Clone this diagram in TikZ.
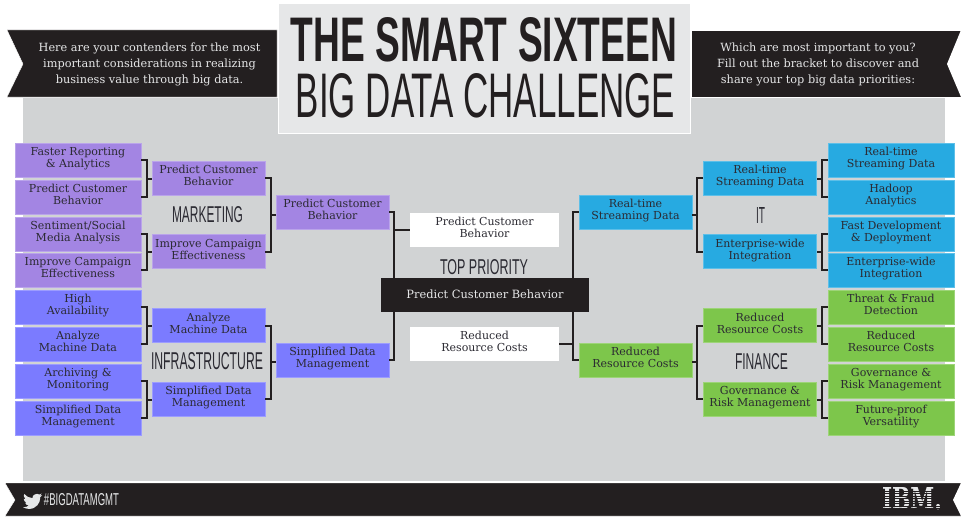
\documentclass[tikz,border=0pt]{standalone}
\usepackage{fontspec}
\usepackage{graphicx}
\setmainfont{DejaVu Serif}
\newfontfamily\headfont{Liberation Sans}
\definecolor{ink}{HTML}{231F20}
\definecolor{txt}{HTML}{2B2A32}
\definecolor{panel}{HTML}{D1D3D4}
\definecolor{titlebg}{HTML}{E6E7E8}
\definecolor{pur}{HTML}{A385E3}
\definecolor{ind}{HTML}{7B7BFF}
\definecolor{blu}{HTML}{27AAE1}
\definecolor{grn}{HTML}{7DC64B}
\newcommand{\brk}[6]{%
  \draw[conn] (#1.#4) -- ++(#6,0) coordinate (p) -- (p |- #2.#4) -- (#2.#4);
  \path (#1.#4) -- (#2.#4) coordinate[midway] (m);
  \draw[conn] (p |- m) -- (m -| #3.#5);
}
\newcommand{\fitted}[3]{\resizebox{#1pt}{#2pt}{#3}}
\tikzset{
  x=1pt,y=-1pt,
  boxbase/.style={inner sep=0pt,align=center,text=txt,
    font=\fontsize{11}{12}\selectfont,
    execute at begin node={\rule{0pt}{12pt}},
    execute at end node={\rule[-5pt]{0pt}{5pt}}},
  leaf/.style={boxbase,fill=#1,draw=#1!75!white,line width=.6pt,minimum width=126,minimum height=34},
  mid/.style={boxbase,fill=#1,draw=#1!75!white,line width=.6pt,minimum width=113,minimum height=34},
  win/.style={boxbase,fill=white,minimum width=149,minimum height=34},
  conn/.style={draw=ink,line width=2pt},
  ribbon/.style={fill=ink,draw=white,line width=.4pt},
  ribtext/.style={inner sep=0pt,align=center,text=titlebg,font=\fontsize{11.3}{16}\selectfont},
  heading/.style={inner sep=0pt,text=txt,font=\headfont},
  big/.style={inner sep=0pt,text=ink,font=\headfont},
}
\begin{document}
\begin{tikzpicture}
\useasboundingbox (0,0) rectangle (961,519);
\fill[white] (0,0) rectangle (961,519);
% panel, title, ribbons
\fill[panel] (23,98) rectangle (945,481);
\path[fill=titlebg,draw=white,line width=1pt] (278,4) rectangle (690,133);
\path[ribbon] (7,30) -- (277,30) -- (277,97) -- (7,97) -- (23,64) -- cycle;
\path[ribbon] (691,30) -- (961,30) -- (961,97) -- (691,97) -- cycle;
\fill[white] (961,30) -- (947,64) -- (961,97) -- cycle;
\path[ribbon] (5,483) -- (961,483) -- (961,516) -- (5,516) -- (15,500) -- cycle;
\fill[white] (961,483) -- (953,500) -- (961,516) -- cycle;
% headline
\node[big] (title1) at (484,40) {\fitted{386}{44}{\bfseries THE SMART SIXTEEN}};
\node[big] (title2) at (485.5,95.5) {\fitted{379}{44}{BIG DATA CHALLENGE}};
\node[ribtext] (intro) at (149.5,64) {Here are your contenders for the most\\important considerations in realizing\\business value through big data.};
\node[ribtext] (ask) at (818,64) {Which are most important to you?\\Fill out the bracket to discover and\\share your top big data priorities:};
% marketing
\node[leaf=pur] (a1) at (78,160) {Faster Reporting\\\& Analytics};
\node[leaf=pur] (a2) at (78,197) {Predict Customer\\Behavior};
\node[leaf=pur] (a3) at (78,234) {Sentiment/Social\\Media Analysis};
\node[leaf=pur] (a4) at (78,270) {Improve Campaign\\Effectiveness};
\node[mid=pur] (a5) at (208.5,178) {Predict Customer\\Behavior};
\node[mid=pur] (a6) at (208.5,251.5) {Improve Campaign\\Effectiveness};
\node[mid=pur] (a7) at (332.5,212) {Predict Customer\\Behavior};
% infrastructure
\node[leaf=ind] (b1) at (78,307) {High\\Availability};
\node[leaf=ind] (b2) at (78,344) {Analyze\\Machine Data};
\node[leaf=ind] (b3) at (78,381) {Archiving \&\\Monitoring};
\node[leaf=ind] (b4) at (78,418) {Simplified Data\\Management};
\node[mid=ind] (b5) at (208.5,325.5) {Analyze\\Machine Data};
\node[mid=ind] (b6) at (208.5,399) {Simplified Data\\Management};
\node[mid=ind] (b7) at (332.5,360) {Simplified Data\\Management};
% IT
\node[leaf=blu] (c1) at (891,160) {Real-time\\Streaming Data};
\node[leaf=blu] (c2) at (891,197) {Hadoop\\Analytics};
\node[leaf=blu] (c3) at (891,234) {Fast Development\\\& Deployment};
\node[leaf=blu] (c4) at (891,270) {Enterprise-wide\\Integration};
\node[mid=blu] (c5) at (760,178) {Real-time\\Streaming Data};
\node[mid=blu] (c6) at (760,251.5) {Enterprise-wide\\Integration};
\node[mid=blu] (c7) at (635.5,212) {Real-time\\Streaming Data};
% finance
\node[leaf=grn] (d1) at (891,307) {Threat \& Fraud\\Detection};
\node[leaf=grn] (d2) at (891,344) {Reduced\\Resource Costs};
\node[leaf=grn] (d3) at (891,381) {Governance \&\\Risk Management};
\node[leaf=grn] (d4) at (891,418) {Future-proof\\Versatility};
\node[mid=grn] (d5) at (760,325.5) {Reduced\\Resource Costs};
\node[mid=grn] (d6) at (760,399) {Governance \&\\Risk Management};
\node[mid=grn] (d7) at (635.5,360) {Reduced\\Resource Costs};
% centre
\node[win] (w1) at (484.5,230) {Predict Customer\\Behavior};
\node[win] (w2) at (484.5,343.5) {Reduced\\Resource Costs};
\node[boxbase,fill=ink,text=titlebg,minimum width=208,minimum height=34,font=\fontsize{11.4}{12}\selectfont] (champ) at (485,295) {Predict Customer Behavior};
% section labels
\node[heading] (lm) at (207.5,215) {\fitted{71}{16}{MARKETING}};
\node[heading] (li) at (207,361.5) {\fitted{112}{17}{INFRASTRUCTURE}};
\node[heading] (lt) at (760.5,215) {\fitted{9}{16}{IT}};
\node[heading] (lf) at (761.5,362) {\fitted{53}{16}{FINANCE}};
\node[heading] (lp) at (484,267.5) {\fitted{88}{15}{TOP PRIORITY}};
% brackets
\brk{a1}{a2}{a5}{east}{west}{5.5}
\brk{a3}{a4}{a6}{east}{west}{5.5}
\brk{b1}{b2}{b5}{east}{west}{5.5}
\brk{b3}{b4}{b6}{east}{west}{5.5}
\brk{a5}{a6}{a7}{east}{west}{5.5}
\brk{b5}{b6}{b7}{east}{west}{5.5}
\brk{c1}{c2}{c5}{west}{east}{-5.5}
\brk{c3}{c4}{c6}{west}{east}{-5.5}
\brk{d1}{d2}{d5}{west}{east}{-5.5}
\brk{d3}{d4}{d6}{west}{east}{-5.5}
\brk{c5}{c6}{c7}{west}{east}{-6}
\brk{d5}{d6}{d7}{west}{east}{-6}
\draw[conn] (a7.east) -- ++(5,0) coordinate (p) -- (p |- champ.north);
\draw[conn] (p |- w1.west) -- (w1.west);
\draw[conn] (b7.east) -- ++(5,0) coordinate (p) -- (p |- champ.south);
\draw[conn] (c7.west) -- ++(-6,0) coordinate (p) -- (p |- champ.north);
\draw[conn] (d7.west) -- ++(-6,0) coordinate (p) -- (p |- champ.south);
\draw[conn] (w2.east) -- (p |- w2.east);
% footer
\begin{scope}[shift={(23,491.5)},scale=.8]
\fill[titlebg] (23.95,4.57) -- (21.13,5.35) .. controls (22.1,4.75) and (22.9,3.8) .. (23.29,2.62)
  .. controls (22.34,3.18) and (21.29,3.58) .. (20.16,3.81)
  .. controls (18.2,1.6) and (11,3.9) .. (11.78,8.29)
  .. controls (7.69,8.095) and (4.067,6.13) .. (1.64,3.162)
  .. controls (1.22,3.89) and (.974,4.74) .. (.974,5.637)
  .. controls (.974,7.35) and (1.84,8.85) .. (3.16,9.73)
  -- (.93,9.12) -- (.93,9.18)
  .. controls (.93,11.56) and (2.62,13.55) .. (4.88,14)
  -- (2.66,14.09)
  .. controls (3.3,16.05) and (5.1,17.46) .. (7.27,17.5)
  .. controls (5.6,18.8) and (3.5,19.6) .. (1.17,19.6)
  -- (0,19.54)
  .. controls (2.19,20.93) and (4.77,21.75) .. (7.56,21.75)
  .. controls (16.61,21.75) and (21.56,14.25) .. (21.56,7.76)
  -- (21.54,7.13)
  .. controls (22.5,6.4) and (23.35,5.55) .. (24,4.59) -- cycle;
\end{scope}
\node[inner sep=0pt,text=titlebg,font=\headfont] (tag) at (81.5,500) {\fitted{75}{12}{\#BIGDATAMGMT}};
\node[inner sep=0pt,text=titlebg,font=\bfseries] (ibm) at (912,499) {\fitted{60}{22}{IBM.}};
\foreach \yy in {490.5,493,495.5,498,500.5,503,505.5,508}
  \fill[ink] (880,\yy) rectangle (944,\yy+.9);
\end{tikzpicture}
\end{document}
